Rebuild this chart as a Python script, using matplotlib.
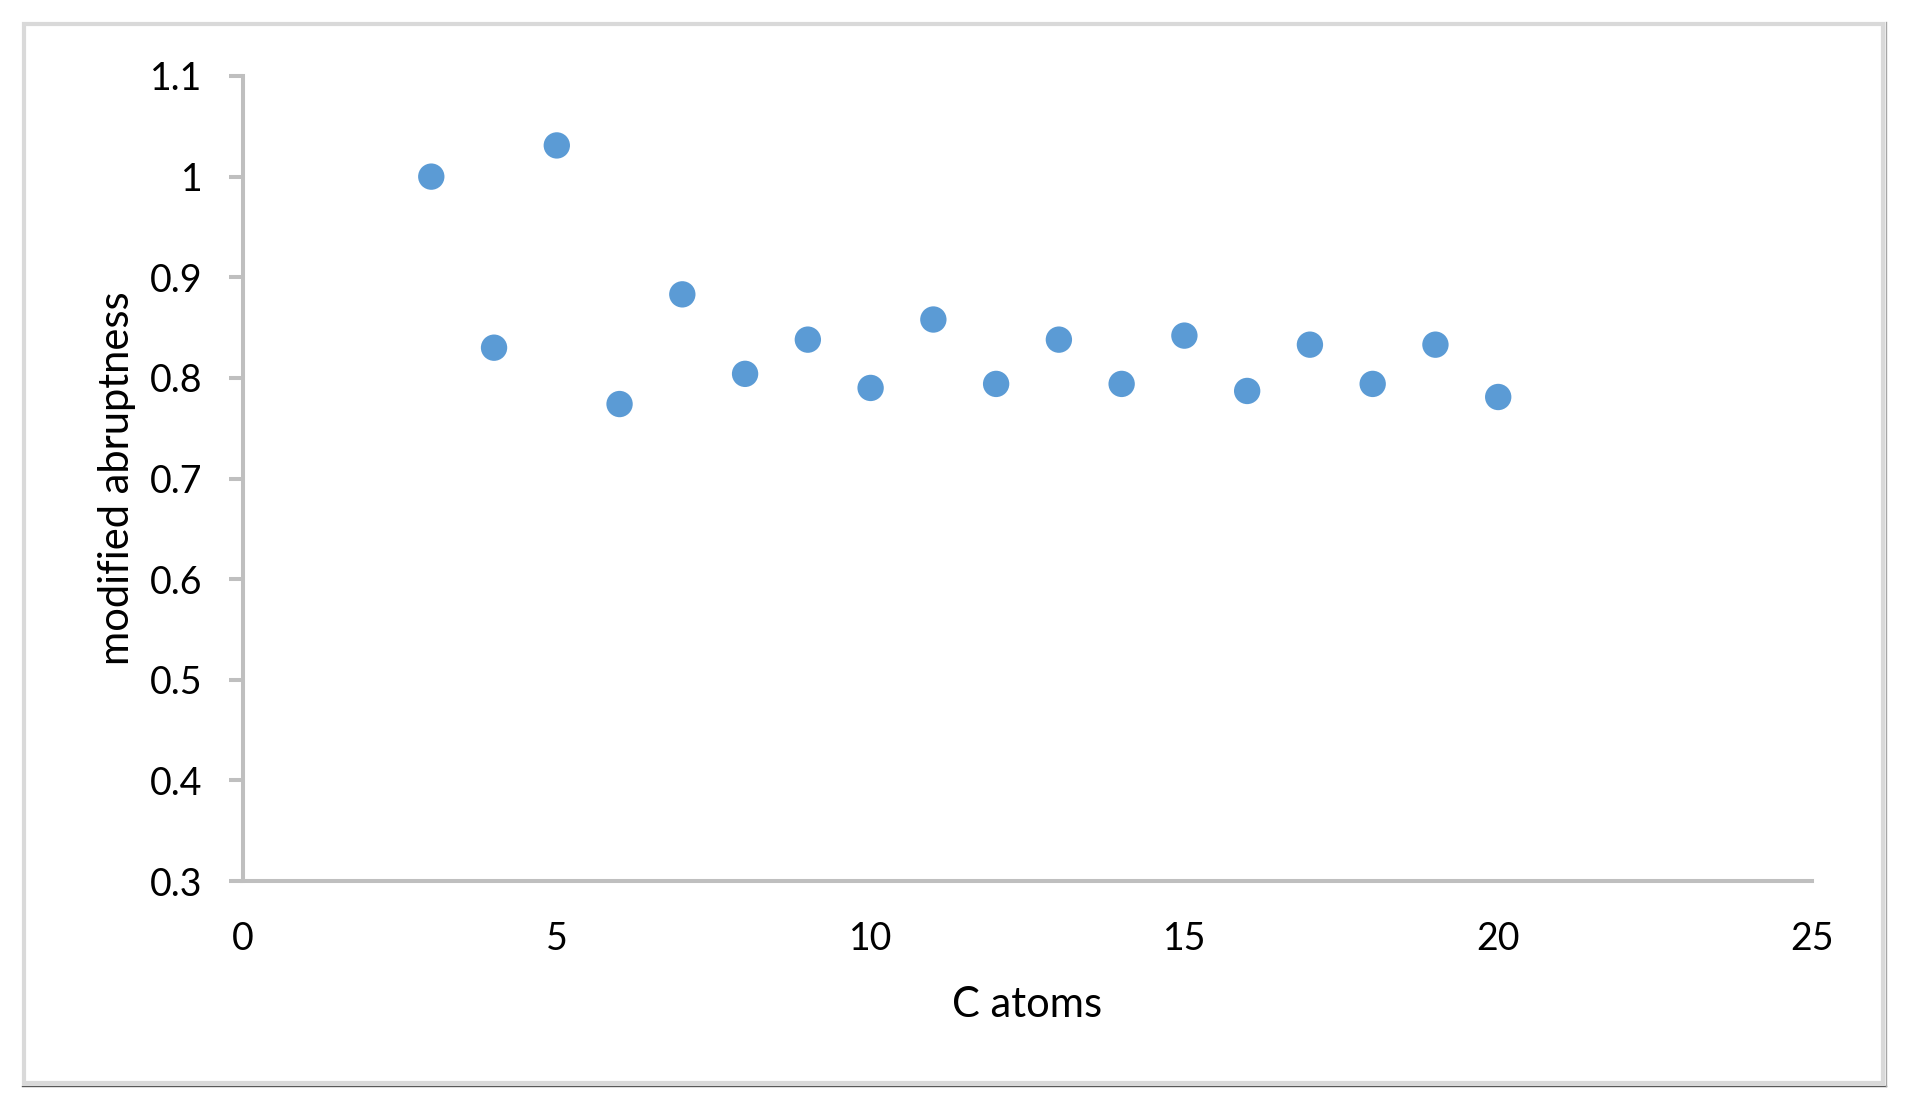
import numpy as np
import matplotlib
matplotlib.use("Agg")
import matplotlib.pyplot as plt
from matplotlib.patches import Rectangle
from matplotlib.lines import Line2D

# data
c_atoms = [3, 4, 5, 6, 7, 8, 9, 10, 11, 12, 13, 14, 15, 16, 17, 18, 19, 20]
abruptness = [1.000, 0.830, 1.031, 0.774, 0.883, 0.804, 0.838, 0.790, 0.858,
              0.794, 0.838, 0.794, 0.842, 0.787, 0.833, 0.794, 0.833, 0.781]

x_ticks = [0, 5, 10, 15, 20, 25]
y_ticks = [0.3, 0.4, 0.5, 0.6, 0.7, 0.8, 0.9, 1.0, 1.1]
y_labels = ["0.3", "0.4", "0.5", "0.6", "0.7", "0.8", "0.9", "1", "1.1"]

plt.rcParams['font.family'] = ['Lato', 'DejaVu Sans']

W, H = 1909, 1112
fig = plt.figure(figsize=(W/100, H/100), dpi=100)
ax = fig.add_axes([243/W, 1-881/H, (1812-243)/W, (881-76)/H])

ax.scatter(c_atoms, abruptness, s=360, color='#5B9BD5', edgecolors='none', zorder=3)

ax.set_xlim(0, 25)
ax.set_ylim(0.3, 1.1)
ax.set_xticks(x_ticks)
ax.set_yticks(y_ticks)
ax.set_yticklabels(y_labels)

grey = '#BFBFBF'
for s in ['top', 'right']:
    ax.spines[s].set_visible(False)
for s in ['left', 'bottom']:
    ax.spines[s].set_color(grey)
    ax.spines[s].set_linewidth(2.9)

ax.tick_params(axis='y', length=10, width=2.9, color=grey, pad=19, labelsize=27)
ax.tick_params(axis='x', length=0, pad=29, labelsize=27)

ax.set_xlabel("C atoms", fontsize=30, labelpad=21)
ax.set_ylabel("modified abruptness", fontsize=30, labelpad=10)

# outer chart frame
fig.patches.append(Rectangle((24/W, 1-1083/H), (1883-24)/W, (1083-24)/H,
                             transform=fig.transFigure, fill=False,
                             edgecolor='#D9D9D9', linewidth=3))
fig.lines.append(Line2D([22/W, 1886/W], [1-1086/H, 1-1086/H],
                        transform=fig.transFigure, color='#595959', linewidth=1))
fig.lines.append(Line2D([1886/W, 1886/W], [1-1086/H, 1-22/H],
                        transform=fig.transFigure, color='#A6A6A6', linewidth=1))

fig.savefig("out.png", dpi=100)
